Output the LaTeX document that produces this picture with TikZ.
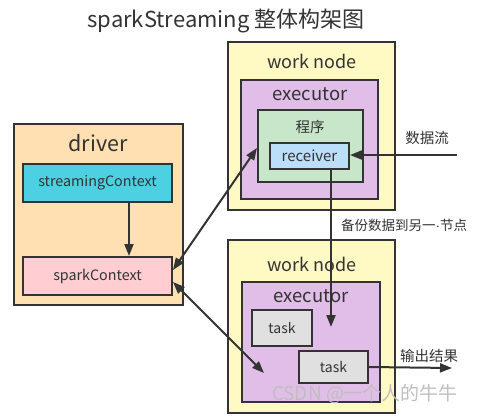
\documentclass[tikz,border=0pt]{standalone}
\usepackage{fontspec}
\setmainfont{Noto Sans CJK SC}
\newfontfamily\latinfont{Liberation Sans}
\usetikzlibrary{arrows.meta,calc}
\definecolor{ink}{HTML}{333333}
\definecolor{wnfill}{HTML}{FFF9C4}
\definecolor{exfill}{HTML}{E1BEE7}
\definecolor{prfill}{HTML}{C8E6C9}
\definecolor{rcfill}{HTML}{BBDEFB}
\definecolor{drfill}{HTML}{FFE0B2}
\definecolor{scfill}{HTML}{4DD0E1}
\definecolor{spfill}{HTML}{FFCDD2}
\definecolor{tkfill}{HTML}{E0E0E0}
\begin{document}
\begin{tikzpicture}[x=1pt,y=-1pt,
  box/.style={draw=ink,line width=2pt,rectangle,inner sep=0pt,text=ink},
  lbl/.style={text=ink,inner sep=0pt},
  small/.style={font=\fontsize{14}{16}\selectfont},
  big/.style={font=\fontsize{18}{20}\selectfont},
  arr/.style={draw=ink,line width=2pt,-{Triangle[length=12pt,width=9pt]}},
  darr/.style={draw=ink,line width=2pt,{Triangle[length=12pt,width=9pt]}-{Triangle[length=12pt,width=9pt]}}]
\useasboundingbox (0,0) rectangle (477,416);
\node[lbl,font=\fontsize{22}{24}\selectfont] (title) at (226,21) {sparkStreaming 整体构架图};
% top work node
\node[box,fill=wnfill,minimum width=167pt,minimum height=168pt] (wn1) at (311.5,126) {};
\node[lbl,big] (wn1t) at (312,61) {work node};
\node[box,fill=exfill,minimum width=137pt,minimum height=119pt] (ex1) at (309.5,139.5) {};
\node[lbl,font=\fontsize{18.5}{20}\selectfont] (ex1t) at (310,94) {executor};
\node[box,fill=prfill,minimum width=105pt,minimum height=72pt] (prog) at (310.5,146) {};
\node[lbl,font=\fontsize{14.5}{16}\selectfont] (progt) at (310,127) {程序};
\node[box,fill=rcfill,minimum width=79pt,minimum height=26pt,font=\fontsize{15}{17}\selectfont] (recv) at (309.5,156) {receiver};
% bottom work node
\node[box,fill=wnfill,minimum width=167pt,minimum height=173pt] (wn2) at (311.5,326.5) {};
\node[lbl,big] (wn2t) at (312,264) {work node};
\node[box,fill=exfill,minimum width=138pt,minimum height=120pt] (ex2) at (311,342) {};
\node[lbl,font=\fontsize{18.5}{20}\selectfont] (ex2t) at (311,296) {executor};
\node[box,fill=tkfill,minimum width=60pt,minimum height=36pt,small] (task1) at (282,328) {task};
\node[box,fill=tkfill,minimum width=69pt,minimum height=32pt,small] (task2) at (333.5,367) {task};
% driver
\node[box,fill=drfill,minimum width=169pt,minimum height=181pt] (drv) at (98.5,214.5) {};
\node[lbl,font=\fontsize{21.5}{23}\selectfont] (drvt) at (98,143) {driver};
\node[box,fill=scfill,minimum width=149pt,minimum height=38pt,font=\fontsize{14.3}{16}\selectfont] (stc) at (97.5,183) {streamingContext};
\node[box,fill=spfill,minimum width=149pt,minimum height=38pt,font=\fontsize{14.3}{16}\selectfont] (spc) at (97.5,276) {sparkContext};
% free ends
\coordinate (dataIn) at (457,155);
\coordinate (bk) at (331,327);
\coordinate (outEnd) at (452,368);
\coordinate (ex2in) at (264,373);
% connectors
\draw[arr] (stc.south -| 129,0) -- (spc.north -| 129,0);
\draw[arr] (dataIn) -- (recv.east |- dataIn);
\draw[arr] (bk |- recv.south) -- (bk);
\draw[arr] (task2.east) -- (outEnd);
\draw[darr] ([yshift=6pt]spc.east) -- ([yshift=-2pt]prog.west);
\draw[darr] ([yshift=-6pt]spc.east) -- (ex2in);
% labels
\node[lbl,font=\fontsize{14.5}{16}\selectfont] (lData) at (427,138) {数据流};
\node[lbl,font=\fontsize{13.5}{16}\selectfont] (lBk) at (404,225) {备份数据到另一{\latinfont ·}节点};
\node[lbl,font=\fontsize{14.5}{16}\selectfont] (lOut) at (429,356) {输出结果};
\node[inner sep=0pt,text=black!25,font=\fontsize{19}{21}\selectfont] (wm) at (365,394) {CSDN @一个人的牛牛};
\end{tikzpicture}
\end{document}
